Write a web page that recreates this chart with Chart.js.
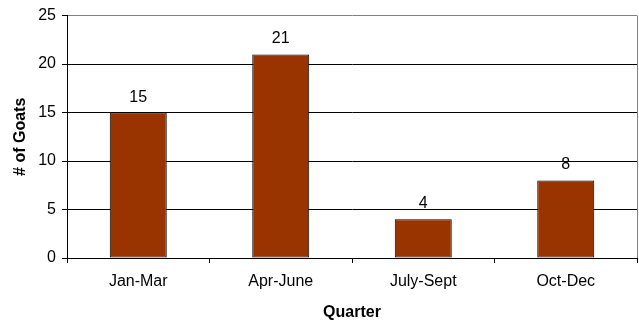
<!DOCTYPE html>
<html>
<head>
<meta charset="utf-8">
<title>Goats per Quarter</title>
<script src="https://cdn.jsdelivr.net/npm/chart.js@4/dist/chart.umd.min.js"></script>
<style>
  html, body { margin: 0; padding: 0; background: #fff; }
  #wrap { width: 639px; height: 322px; }
</style>
</head>
<body>
<div id="wrap"><canvas id="goatChart" width="639" height="322"></canvas></div>
<script>
// chart data
const quarters = ['Jan-Mar', 'Apr-June', 'July-Sept', 'Oct-Dec'];
const goats = [15, 21, 4, 8];
const yMax = 25;
const yStep = 5;

Chart.defaults.font.family = '"Liberation Sans", Arial, sans-serif';
Chart.defaults.font.size = 16;
Chart.defaults.color = '#000';

// value labels above each bar
const barLabels = {
    id: 'barLabels',
    afterDatasetsDraw(chart) {
        const ctx = chart.ctx;
        const meta = chart.getDatasetMeta(0);
        ctx.save();
        ctx.font = '16px "Liberation Sans", Arial, sans-serif';
        ctx.fillStyle = '#000';
        ctx.textAlign = 'center';
        ctx.textBaseline = 'alphabetic';
        meta.data.forEach(function(bar, i) {
            ctx.fillText(String(chart.data.datasets[0].data[i]), bar.x, bar.y - 11);
        });
        ctx.restore();
    }
};

// thin grey frame on the right side of the plot
const plotFrame = {
    id: 'plotFrame',
    afterDraw(chart) {
        const a = chart.chartArea;
        const ctx = chart.ctx;
        ctx.save();
        ctx.strokeStyle = '#808080';
        ctx.lineWidth = 1;
        ctx.beginPath();
        ctx.moveTo(Math.round(a.right) + 0.5, a.top);
        ctx.lineTo(Math.round(a.right) + 0.5, a.bottom);
        ctx.stroke();
        ctx.restore();
    }
};

new Chart(document.getElementById('goatChart').getContext('2d'), {
    type: 'bar',
    data: {
        labels: quarters,
        datasets: [{
            data: goats,
            backgroundColor: '#993300',
            borderColor: '#000',
            borderWidth: 1,
            borderSkipped: false,
            categoryPercentage: 1,
            barPercentage: 0.4
        }]
    },
    options: {
        responsive: false,
        animation: false,
        layout: { padding: { top: 14, right: 2, left: 0, bottom: 0 } },
        plugins: {
            legend: { display: false },
            tooltip: { enabled: false }
        },
        scales: {
            x: {
                afterFit(scale) { scale.height = 64; },
                grid: {
                    offset: true,
                    drawOnChartArea: false,
                    tickLength: 5,
                    color: '#000'
                },
                border: { color: '#000' },
                ticks: { padding: 9, maxRotation: 0 },
                title: {
                    display: true,
                    text: 'Quarter',
                    font: { weight: 'bold', size: 16 },
                    padding: { top: 2, bottom: 0 }
                }
            },
            y: {
                min: 0,
                max: yMax,
                afterFit(scale) { scale.width = 67; },
                grid: {
                    tickLength: 5,
                    tickColor: '#000',
                    color: function(c) { return c.tick && c.tick.value === yMax ? '#808080' : '#000'; }
                },
                border: { color: '#000' },
                ticks: { stepSize: yStep, padding: 6 },
                title: {
                    display: true,
                    text: '# of Goats',
                    font: { weight: 'bold', size: 16 },
                    padding: { top: 11, bottom: 0 }
                }
            }
        }
    },
    plugins: [barLabels, plotFrame]
});
</script>
</body>
</html>
